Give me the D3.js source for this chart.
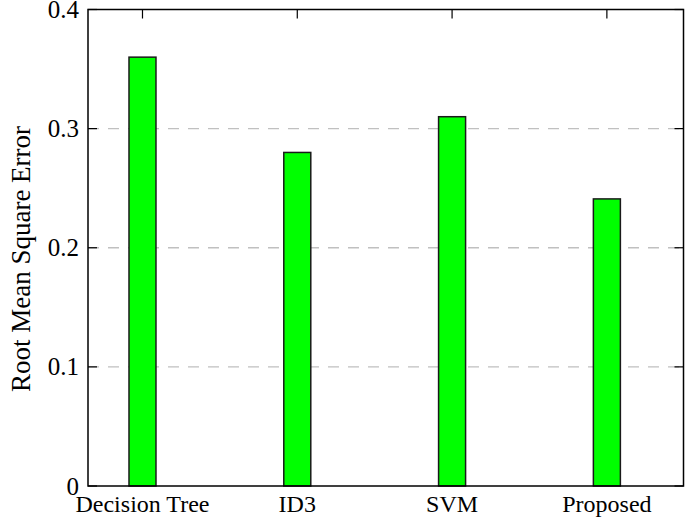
<!DOCTYPE html>
<html>
<head>
<meta charset="utf-8">
<script src="https://cdn.jsdelivr.net/npm/d3@7"></script>
<style>
  html, body { margin: 0; padding: 0; background: #fff; }
  svg text { font-family: "Liberation Serif", "Times New Roman", serif; fill: #000; }
</style>
</head>
<body>
<svg id="chart" width="685" height="517"></svg>
<script>
const categories = ["Decision Tree", "ID3", "SVM", "Proposed"];
const rmse = [0.36, 0.28, 0.31, 0.241];
const yTicks = [0, 0.1, 0.2, 0.3, 0.4];
const yTickLabels = ["0", "0.1", "0.2", "0.3", "0.4"];
const yLabel = "Root Mean Square Error";

const svg = d3.select("#chart");
const L = 88, R = 683.5, T = 9.5, B = 486;

const x = d3.scaleLinear().domain([-0.352, 3.495]).range([L, R]);
const y = d3.scaleLinear().domain([0, 0.4]).range([B, T]);
const barW = 27;
const tickLen = 9;

// grid
svg.append("g").selectAll("line")
  .data(yTicks.filter(v => v > 0 && v < 0.4))
  .join("line")
  .attr("x1", L).attr("x2", R)
  .attr("y1", d => y(d)).attr("y2", d => y(d))
  .attr("stroke", "#c0c0c0").attr("stroke-width", 1.3)
  .attr("stroke-dasharray", "11,9");

// inward ticks
const tg = svg.append("g").attr("stroke", "#000").attr("stroke-width", 1.2);
yTicks.forEach(v => {
  tg.append("line").attr("x1", L).attr("x2", L + tickLen).attr("y1", y(v)).attr("y2", y(v));
  tg.append("line").attr("x1", R).attr("x2", R - tickLen).attr("y1", y(v)).attr("y2", y(v));
});
categories.forEach((c, i) => {
  tg.append("line").attr("x1", x(i)).attr("x2", x(i)).attr("y1", T).attr("y2", T + tickLen);
  tg.append("line").attr("x1", x(i)).attr("x2", x(i)).attr("y1", B).attr("y2", B - tickLen);
});

// bars
svg.append("g").selectAll("rect")
  .data(rmse)
  .join("rect")
  .attr("x", (d, i) => x(i) - barW / 2)
  .attr("width", barW)
  .attr("y", d => y(d))
  .attr("height", d => B - y(d))
  .attr("fill", "#00ff00")
  .attr("stroke", "#1a1a1a")
  .attr("stroke-width", 1.5);

// frame
svg.append("rect").attr("x", L).attr("y", T).attr("width", R - L).attr("height", B - T)
  .attr("fill", "none").attr("stroke", "#000").attr("stroke-width", 1.5);

// y tick labels
svg.append("g").selectAll("text")
  .data(yTicks)
  .join("text")
  .attr("x", L - 9)
  .attr("y", d => y(d) + 8.5)
  .attr("text-anchor", "end")
  .attr("font-size", 25)
  .text((d, i) => yTickLabels[i]);

// x labels
svg.append("g").selectAll("text")
  .data(categories)
  .join("text")
  .attr("x", (d, i) => x(i))
  .attr("y", B + 26)
  .attr("text-anchor", "middle")
  .attr("font-size", 24)
  .text(d => d);

// y label
svg.append("text")
  .attr("transform", `translate(${30},${259}) rotate(-90)`)
  .attr("text-anchor", "middle")
  .attr("font-size", 27)
  .text(yLabel);
</script>
</body>
</html>
